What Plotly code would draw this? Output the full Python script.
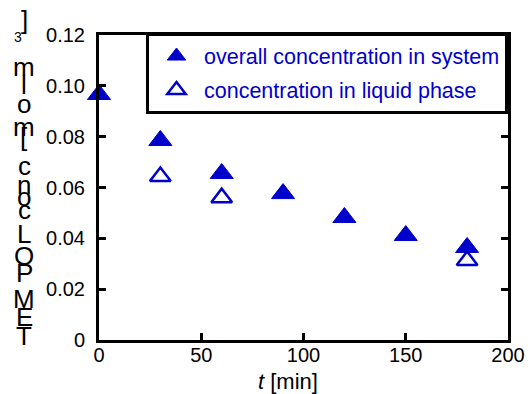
import plotly.graph_objects as go

# Data
t_overall = [0, 30, 60, 90, 120, 150, 180]
c_overall = [0.0966, 0.0785, 0.0655, 0.0576, 0.0482, 0.0411, 0.0364]
t_liquid = [30, 60, 180]
c_liquid = [0.0643, 0.0560, 0.0313]

x_ticks = [0, 50, 100, 150, 200]
y_ticks = [0, 0.02, 0.04, 0.06, 0.08, 0.10, 0.12]
y_tick_text = ["0", "0.02", "0.04", "0.06", "0.08", "0.10", "0.12"]

legend_names = ["overall concentration in system", "concentration in liquid phase"]

# stacked y-axis title characters (top to bottom) and their pixel centres
ytitle_chars = ["]", "3", "m", "l", "o", "m", "[", "c", "n", "o", "c", "L", "O", "P", "M", "E", "T"]
ytitle_py = [20, 37, 67, 85, 104, 127, 137, 166, 185, 197, 210, 234, 256, 273, 299, 317, 336]

BLUE = "#0000cc"
W, H = 530, 394
ML, MR, MT, MB = 99, 22, 35, 54
PW, PH = W - ML - MR, H - MT - MB

fig = go.Figure()
fig.add_trace(go.Scatter(
    x=t_overall, y=c_overall, mode="markers", name=legend_names[0],
    legendgroup="a",
    marker=dict(symbol="triangle-up", size=20, color=BLUE, line=dict(color=BLUE, width=1)),
    cliponaxis=False,
))
fig.add_trace(go.Scatter(
    x=t_liquid, y=c_liquid, mode="markers", name=legend_names[1],
    legendgroup="b",
    marker=dict(symbol="triangle-up-open", size=18, color=BLUE, line=dict(color=BLUE, width=2.5)),
    cliponaxis=False,
))

annotations = []
for ch, py in zip(ytitle_chars, ytitle_py):
    small = ch == "3"
    px = 18 if small else 24
    annotations.append(dict(
        text=ch, xref="paper", yref="paper",
        x=(px - ML) / PW, y=(H - MB - py) / PH,
        xanchor="center", yanchor="middle", showarrow=False,
        font=dict(family="Liberation Sans, Arial", size=14 if small else 26, color="black"),
    ))
annotations.append(dict(
    text="<i>t</i> [min]", xref="paper", yref="paper",
    x=(288 - ML) / PW, y=(H - MB - 381) / PH,
    xanchor="center", yanchor="middle", showarrow=False,
    font=dict(family="Liberation Sans, Arial", size=22, color="black"),
))

axis_common = dict(
    showline=True, linecolor="black", linewidth=3, mirror="ticks",
    ticks="inside", ticklen=7, tickwidth=3, tickcolor="black",
    showgrid=False, zeroline=False, automargin=False,
    tickfont=dict(family="Liberation Sans, Arial", size=20, color="black"),
)

fig.update_layout(
    width=W, height=H,
    margin=dict(l=ML, r=MR, t=MT, b=MB, autoexpand=False),
    paper_bgcolor="white", plot_bgcolor="white",
    xaxis=dict(range=[0, 200], tickvals=x_ticks, ticklabelstandoff=-5, **axis_common),
    yaxis=dict(range=[0, 0.12], tickvals=y_ticks, ticktext=y_tick_text, ticklabelstandoff=7, **axis_common),
    showlegend=True,
    legend=dict(
        x=1, y=1.008, xanchor="right", yanchor="top",
        bgcolor="white", bordercolor="black", borderwidth=3,
        font=dict(family="Liberation Sans, Arial", size=21.5, color=BLUE),
        traceorder="grouped", tracegroupgap=3, itemwidth=45,
    ),
    annotations=annotations,
)

fig.write_html("out.html")
